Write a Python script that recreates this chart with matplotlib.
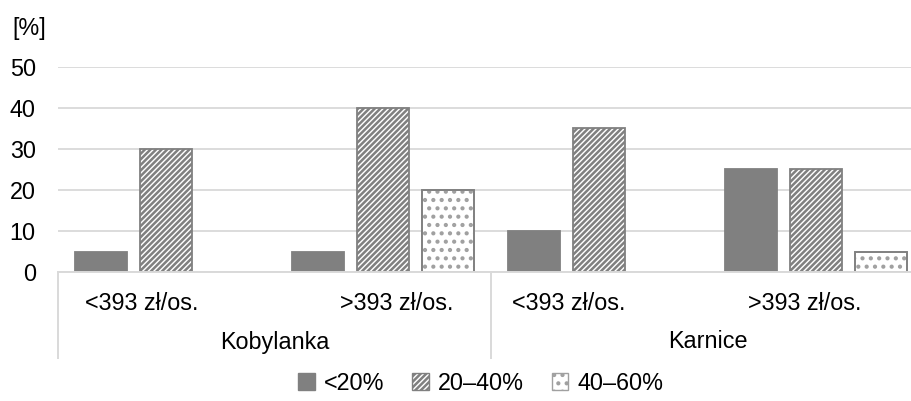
import numpy as np
import matplotlib
matplotlib.use("Agg")
import matplotlib.pyplot as plt
from matplotlib.patches import Patch

plt.rcParams['font.family'] = ['Liberation Sans', 'DejaVu Sans']
plt.rcParams['hatch.linewidth'] = 1.8

sub_labels = ['<393 zł/os.', '>393 zł/os.', '<393 zł/os.', '>393 zł/os.']
group_labels = ['Kobylanka', 'Karnice']
series_names = ['<20%', '20–40%', '40–60%']
low = [5, 5, 10, 25]
mid = [30, 40, 35, 25]
high = [0, 20, 0, 5]

W, H = 911, 401
fig = plt.figure(figsize=(W / 100, H / 100), dpi=100)
ax = fig.add_axes([58 / W, (H - 272) / H, 866 / W, 205 / H])

gray = '#808080'
dotgray = '#a0a0a0'
grid = '#d9d9d9'
fs = 16.8
x = np.arange(len(sub_labels))
bw = 0.24
styles = [dict(color=gray, edgecolor=gray),
          dict(facecolor='white', edgecolor=gray, hatch='//////'),
          dict(facecolor='white', edgecolor=dotgray, hatch='..')]
for i, (vals, st) in enumerate(zip([low, mid, high], styles)):
    vals = np.array(vals, dtype=float)
    keep = vals > 0
    pos = x[keep] + (i - 1) * 0.3
    ax.bar(pos, vals[keep], width=bw, linewidth=1.3, zorder=3, **st)
    if i == 2:
        # darker outline over the light dots
        ax.bar(pos, vals[keep], width=bw, linewidth=1.3, zorder=3.5,
               facecolor='none', edgecolor=gray)

ax.set_xlim(-0.5, len(sub_labels) - 0.5)
ax.set_ylim(0, 50)
ax.set_yticks(range(0, 51, 10))
ax.tick_params(axis='y', length=0, pad=16, labelsize=fs)
ax.set_xticks([])
ax.yaxis.grid(True, color=grid, linewidth=1.3, zorder=0)
for s in ['left', 'right', 'top']:
    ax.spines[s].set_visible(False)
ax.spines['bottom'].set_color(grid)
ax.spines['bottom'].set_linewidth(1.4)
ax.spines['bottom'].set_zorder(4)

# multi-level category axis
tr = ax.get_xaxis_transform()
shifts = [-0.115, 0.065, -0.14, -0.05]
for xi, lab, sh in zip(x, sub_labels, shifts):
    ax.text(xi + sh, -31 / 205, lab, transform=tr, ha='center', va='center', fontsize=fs)
for gi, lab in enumerate(group_labels):
    ax.text(gi * 2 + 0.5, -70 / 205, lab, transform=tr, ha='center', va='center', fontsize=fs)
for xs in [-0.5, 1.5]:
    ax.plot([xs, xs], [0, -86 / 205], transform=tr, color=grid, linewidth=1.4, clip_on=False)

fig.text(12 / W, 1 - 28 / H, '[%]', ha='left', va='center', fontsize=fs)

handles = [Patch(label=n, **st) for n, st in zip(series_names, styles)]
fig.legend(handles=handles, loc='center', bbox_to_anchor=(481 / W, 1 - 383 / H), ncol=3,
           frameon=False, fontsize=fs, handlelength=0.7, handleheight=0.7,
           handletextpad=0.4, columnspacing=1.2)

fig.savefig('out.png', dpi=100)
